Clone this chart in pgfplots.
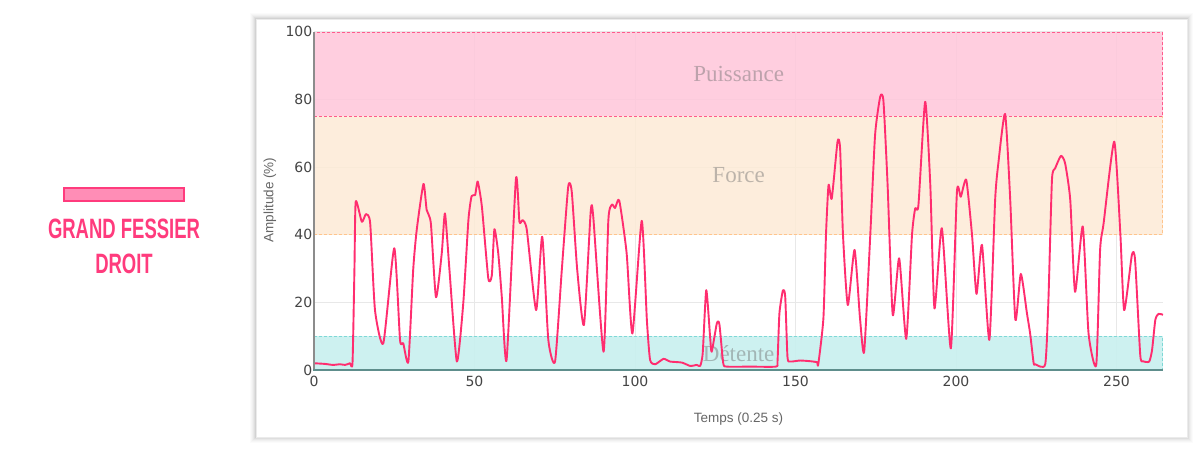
\documentclass[border=0pt]{standalone}
\usepackage{fontspec}
\setmainfont{DejaVu Sans}
\newfontfamily\lsans{Liberation Sans}
\newfontfamily\lserif{Liberation Serif}
\usepackage{graphicx}
\usepackage{pgfplots}
\pgfplotsset{compat=1.18}
\definecolor{lineC}{HTML}{FF2D6F}
\definecolor{pinkband}{HTML}{FFC6DA}
\definecolor{pinkedge}{HTML}{FF5A8C}
\definecolor{forceband}{HTML}{FDEBD6}
\definecolor{forceedge}{HTML}{FFC48C}
\definecolor{detband}{HTML}{C8F0EF}
\definecolor{detedge}{HTML}{7ED8D6}
\definecolor{titleC}{HTML}{FF3B7D}
\definecolor{barfill}{HTML}{FF8DB6}
\definecolor{ticktext}{HTML}{444444}
\definecolor{labtext}{HTML}{666666}
\definecolor{xaxisC}{HTML}{5E8E8C}
\definecolor{bandtext}{HTML}{6E6E6E}
\begin{document}
\begin{tikzpicture}
\begin{scope}[x=1pt,y=1pt]
\path[use as bounding box] (0,0) rectangle (1198,458);
\fill[white] (0,0) rectangle (1198,458);
\foreach \i/\o in {6/0.015,5/0.02,4/0.025,3/0.03,2/0.04,1/0.05} {
  \fill[black,opacity=\o] (256-\i,21-\i) rectangle (1187+\i,439+\i);
}
\filldraw[fill=white,draw=black!8,line width=0.6pt] (256,21) rectangle (1187,439);
% left title
\filldraw[fill=barfill,draw=titleC,line width=2pt] (64,257) rectangle (184,270);
\node[text=titleC,inner sep=0pt] at (124,229) {\scalebox{0.66}[1]{\fontsize{28}{28}\selectfont\lsans\bfseries GRAND FESSIER}};
\node[text=titleC,inner sep=0pt] at (124,194.5) {\scalebox{0.66}[1]{\fontsize{28}{28}\selectfont\lsans\bfseries DROIT}};
\end{scope}
\begin{axis}[
  at={(314pt,88pt)}, anchor=south west,
  scale only axis, width=849pt, height=338.3pt,
  xmin=0, xmax=264.5, ymin=0, ymax=100,
  xtick={0,50,100,150,200,250}, ytick={0,20,40,60,80,100},
  grid=major, major grid style={draw=black!9, line width=0.8pt},
  axis line style={draw=none},
  major tick length=0pt, tick style={draw=none},
  /pgf/number format/assume math mode=true,
  tick label style={font=\fontsize{14}{14}\selectfont, text=ticktext},
  xticklabel style={inner sep=0pt, anchor=north, yshift=-5.5pt},
  yticklabel style={inner sep=0pt, anchor=east, xshift=-1.5pt},
]
\fill[pinkband, fill opacity=0.85] (axis cs:0,75) rectangle (axis cs:264.5,100);
\fill[forceband, fill opacity=0.85] (axis cs:0,40) rectangle (axis cs:264.5,75);
\fill[detband, fill opacity=0.9] (axis cs:0,0) rectangle (axis cs:264.5,10);
\draw[forceedge, line width=1pt, dash pattern=on 3pt off 2pt] (axis cs:0,40) -- (axis cs:264.3,40) -- (axis cs:264.3,75);
\draw[detedge, line width=1pt, dash pattern=on 3pt off 2pt] (axis cs:0,10) -- (axis cs:264.3,10) -- (axis cs:264.3,0);
\draw[pinkedge, line width=1pt, dash pattern=on 3pt off 2pt] (axis cs:0,75) -- (axis cs:264.3,75) -- (axis cs:264.3,99.85) -- (axis cs:0,99.85);
\node[text=bandtext, text opacity=0.45, font=\fontsize{23}{23}\selectfont\lserif] at (axis cs:132.3,87.5) {Puissance};
\node[text=bandtext, text opacity=0.45, font=\fontsize{23}{23}\selectfont\lserif] at (axis cs:132.3,57.5) {Force};
\node[text=bandtext, text opacity=0.45, font=\fontsize{23}{23}\selectfont\lserif] at (axis cs:132.3,4.8) {Détente};
\addplot[lineC, line width=1.9pt, smooth, tension=0.35, line join=round] coordinates {
(0,2.0) (3.4,1.8) (5.9,1.5) (8.1,1.7) (9.7,1.5) (11.2,2.0) (12.0,2.2) (12.6,30) (13.0,49.8)
(14.9,43.8) (16.2,46.1) (17.5,43.4) (19.0,17.7) (21.6,7.9) (25.0,36.0) (26.8,8.9) (27.8,7.9)
(29.4,2.5) (30.9,29.6) (32.0,41.4) (34.1,55.0) (35.1,47.3) (36.4,43.4) (38.0,21.5) (39.8,34.5)
(40.8,46.3) (42.2,29.6) (44.5,2.5) (46.5,19.7) (48.1,44.3) (49.1,51.4) (50.2,51.7) (51.0,55.7)
(52.3,48.3) (54.3,27.1) (55.4,28.0) (56.2,41.6) (57.4,34.5) (58.5,21.7) (60.0,3.0) (62.9,56.4)
(64.0,43.8) (65.0,44.3) (66.3,41.4) (69.2,17.7) (71.1,39.4) (73.0,8.9) (75.1,2.5) (77.2,29.6)
(79.2,54.2) (80.3,52.7) (82.0,29.6) (84.1,13.3) (86.2,46.8) (87.0,45.3) (90.2,5.4) (91.7,44.3)
(92.8,48.9) (93.8,47.9) (95.1,50.1) (97.4,34.5) (99.2,10.8) (102.1,44.1) (103.7,14.8) (104.7,3.0)
(106.3,1.7) (108.9,3.3) (110.9,2.5) (114.6,2.2) (117.2,1.2) (119.3,1.5) (120.3,1.2) (121.1,5)
(122.2,23.6) (123.4,9.8) (123.9,5.4) (125.5,13.8) (126.3,13.5) (127.5,2.0) (128.7,1.0) (136,1.0)
(143.9,1.0) (144.4,2.5) (145.0,16.8) (146.1,23.6) (146.8,21.7) (147.5,3.9) (148.3,2.5) (151.4,2.8)
(154.6,2.6) (156.7,2.3) (157.1,1.7) (158.7,15.3) (159.5,39.9) (160.3,54.7) (161.3,50.7) (163.1,67.5)
(163.9,65.5) (164.8,39.9) (166.3,19.2) (168.4,35.5) (170.1,15.3) (171.4,5.4) (173.3,39.9) (174.8,69.5)
(176.4,80.8) (177.4,79.5) (178.7,54.7) (180.3,16.3) (182.3,33.0) (184.5,9.2) (186.3,39.9) (187.3,47.8)
(188.3,48.7) (190.4,79.3) (192.0,54.7) (193.3,18.2) (195.6,41.9) (198.4,6.4) (200.3,52.7) (201.5,51.2)
(203.2,56.2) (205.0,39.9) (206.4,22.5) (208.1,37.0) (210.4,8.9) (212.2,50.3) (213.2,61.1) (215.3,75.7)
(216.9,50.3) (218.5,14.8) (220.2,28.4) (222.1,16.8) (223.1,10.8) (224.2,2.0) (224.7,1.7) (227.8,1.7)
(228.8,20.7) (229.9,56.2) (230.9,59.6) (232.7,63.3) (234.0,61.1) (235.6,50.3) (237.1,23.1) (239.5,42.4)
(241.3,10.8) (243.7,1.5) (244.9,35.5) (246.0,43.4) (249.3,67.5) (251.2,40.4) (252.4,17.7) (254.8,34.0)
(255.8,32.5) (257.4,4.5) (258.3,2.6) (260.2,2.5) (261.1,6) (262.1,14.8) (263.1,16.6) (264.5,16.3)
};
\end{axis}
\begin{scope}[x=1pt,y=1pt]
\draw[black!45, line width=1.2pt] (314,88) -- (314,426.3);
\draw[xaxisC, line width=1.6pt] (313.4,88) -- (1163,88);
\node[text=labtext, font=\fontsize{13.5}{13.5}\selectfont\lsans] at (738.5,39) {Temps (0.25 s)};
\node[text=labtext, font=\fontsize{13.5}{13.5}\selectfont\lsans, rotate=90] at (270,258) {Amplitude (\%)};
\end{scope}
\end{tikzpicture}
\end{document}
